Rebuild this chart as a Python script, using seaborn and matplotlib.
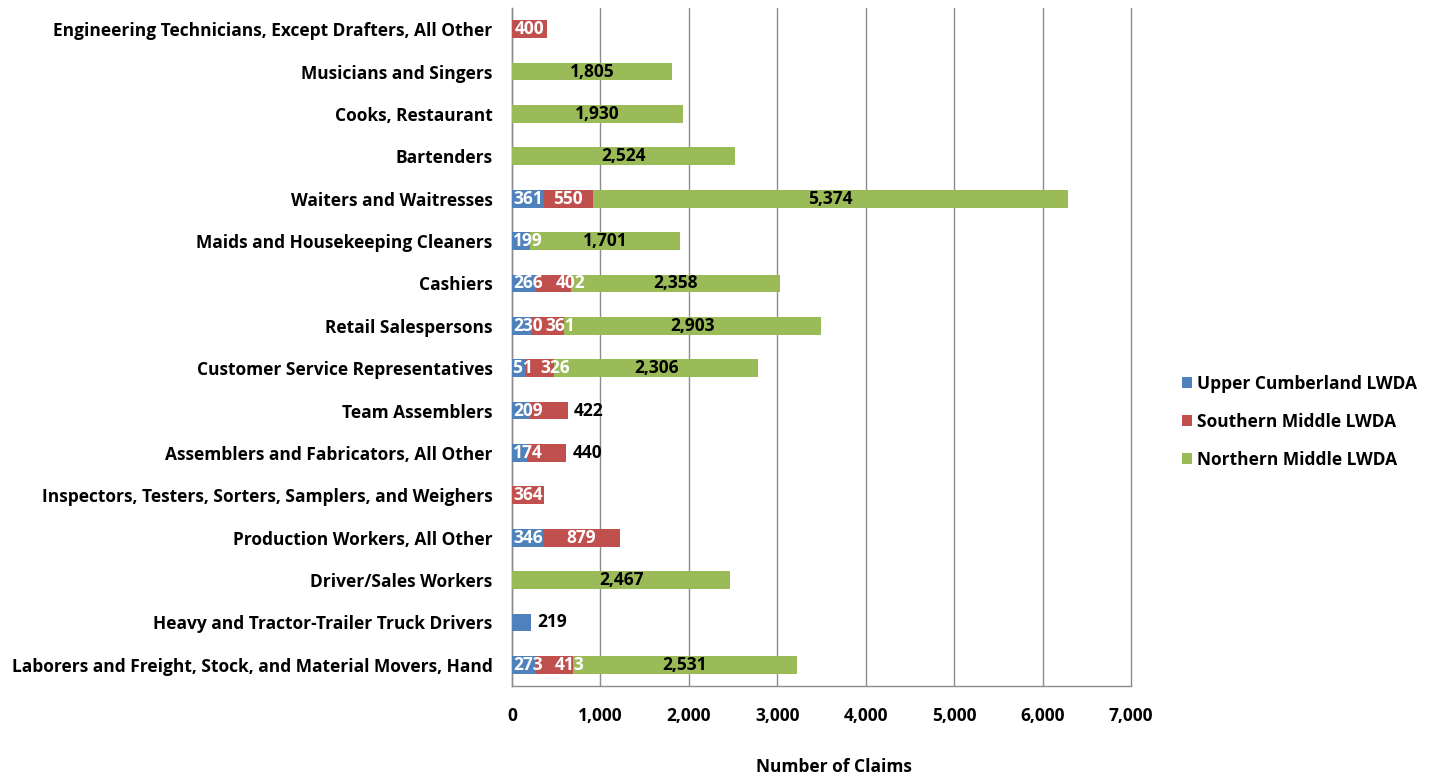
import matplotlib
matplotlib.use("Agg")
import matplotlib.pyplot as plt
import matplotlib.transforms as mtransforms
import seaborn as sns
import pandas as pd
import numpy as np
from matplotlib.patches import Patch

# occupations, top to bottom
occupations = [
    "Engineering Technicians, Except Drafters, All Other",
    "Musicians and Singers",
    "Cooks, Restaurant",
    "Bartenders",
    "Waiters and Waitresses",
    "Maids and Housekeeping Cleaners",
    "Cashiers",
    "Retail Salespersons",
    "Customer Service Representatives",
    "Team Assemblers",
    "Assemblers and Fabricators, All Other",
    "Inspectors, Testers, Sorters, Samplers, and Weighers",
    "Production Workers, All Other",
    "Driver/Sales Workers",
    "Heavy and Tractor-Trailer Truck Drivers",
    "Laborers and Freight, Stock, and Material Movers, Hand",
]

upper_cumberland = [0, 0, 0, 0, 361, 199, 266, 230, 151, 209, 174, 0, 346, 0, 219, 273]
southern_middle = [400, 0, 0, 0, 550, 0, 402, 361, 326, 422, 440, 364, 879, 0, 0, 413]
northern_middle = [0, 1805, 1930, 2524, 5374, 1701, 2358, 2903, 2306, 0, 0, 0, 0, 2467, 0, 2531]

series_names = ["Upper Cumberland LWDA", "Southern Middle LWDA", "Northern Middle LWDA"]
series_colors = ["#4F81BD", "#C0504D", "#9BBB59"]

# labels that sit just past the end of the bar
outside_labels = {("Team Assemblers", 1), ("Assemblers and Fabricators, All Other", 1),
                  ("Heavy and Tractor-Trailer Truck Drivers", 0)}
# labels nudged right (pixels) in the original
label_nudge = {("Cashiers", 1): 17, ("Retail Salespersons", 1): 12,
               ("Customer Service Representatives", 1): 15,
               ("Laborers and Freight, Stock, and Material Movers, Hand", 1): 15}
# left as is, even though it runs past the axis
no_clamp = {("Customer Service Representatives", 0)}

df = pd.DataFrame({
    "occupation": occupations,
    "upper": upper_cumberland,
    "southern": southern_middle,
    "northern": northern_middle,
})
df["cum1"] = df["upper"]
df["cum2"] = df["upper"] + df["southern"]
df["cum3"] = df["cum2"] + df["northern"]

sns.set_style("white")
plt.rcParams["font.family"] = ["Open Sans", "DejaVu Sans"]
plt.rcParams["font.weight"] = "bold"
plt.rcParams["text.color"] = "black"
plt.rcParams["axes.labelcolor"] = "black"
plt.rcParams["xtick.labelcolor"] = "black"
plt.rcParams["ytick.labelcolor"] = "black"

fs = 12.5

fig = plt.figure(figsize=(14.35, 7.74), dpi=100)
ax = fig.add_axes([0.3568, 0.1137, 0.4314, 0.876])

bar_w = 0.42
# layered cumulative bars, longest first
for col, color in zip(["cum3", "cum2", "cum1"], series_colors[::-1]):
    sns.barplot(data=df, y="occupation", x=col, color=color, orient="h",
                width=bar_w, errorbar=None, saturation=1, ax=ax, zorder=3)

for p in ax.patches:
    p.set_edgecolor("none")

ax.set_xlim(0, 7000)
ax.set_ylim(len(occupations) - 0.5, -0.5)

# data labels
inside_texts = []
for i, row in df.iterrows():
    starts = [0, row["cum1"], row["cum2"]]
    vals = [row["upper"], row["southern"], row["northern"]]
    for k in range(3):
        v = vals[k]
        if v == 0:
            continue
        key = (row["occupation"], k)
        if key in outside_labels:
            tr = mtransforms.offset_copy(ax.transData, fig=fig, x=6, y=0, units="dots")
            ax.text(starts[k] + v, i, f"{v:,}", ha="left", va="center", transform=tr,
                    color="black", fontsize=fs, fontweight="bold", zorder=5)
        else:
            color = "black" if k == 2 else "white"
            dx = label_nudge.get(key, 0)
            tr = mtransforms.offset_copy(ax.transData, fig=fig, x=dx, y=0, units="dots")
            t = ax.text(starts[k] + v / 2, i, f"{v:,}", ha="center", va="center", transform=tr,
                        color=color, fontsize=fs, fontweight="bold", zorder=5)
            if key not in no_clamp:
                inside_texts.append((t, dx))

# keep labels inside the plot area on the left
fig.canvas.draw()
renderer = fig.canvas.get_renderer()
ax_left = ax.get_window_extent(renderer).x0
for t, dx in inside_texts:
    bb = t.get_window_extent(renderer)
    if bb.x0 < ax_left + 1:
        shift = ax_left + 1 - bb.x0
        t.set_transform(mtransforms.offset_copy(ax.transData, fig=fig, x=dx + shift, y=0, units="dots"))

ax.set_xticks(range(0, 7001, 1000))
ax.set_xticklabels([f"{t:,}" for t in range(0, 7001, 1000)])
ax.xaxis.grid(True, color="#8c8c8c", linewidth=1, zorder=0)
ax.yaxis.grid(False)
ax.set_axisbelow(True)
for gl in ax.get_xgridlines():
    gl.set_clip_on(False)

for s in ["top", "right"]:
    ax.spines[s].set_visible(False)
for s in ["left", "bottom"]:
    ax.spines[s].set_color("#8c8c8c")
    ax.spines[s].set_linewidth(1)

ax.set_yticks(np.arange(-0.5, len(occupations), 1), minor=True)
ax.tick_params(axis="y", which="major", length=0, pad=14, labelsize=fs)
ax.tick_params(axis="y", which="minor", length=5, color="#8c8c8c", direction="out")
ax.tick_params(axis="x", which="major", length=5, color="#8c8c8c", direction="out",
               pad=10, labelsize=fs)
for lab in ax.get_yticklabels() + ax.get_xticklabels():
    lab.set_fontweight("bold")

ax.set_ylabel("")
ax.set_xlabel("Number of Claims", fontsize=fs, fontweight="bold", labelpad=24, x=0.52)

handles = [Patch(facecolor=c, edgecolor="none", label=n) for n, c in zip(series_names, series_colors)]
leg = fig.legend(handles=handles, loc="center left", bbox_to_anchor=(0.813, 0.455),
                 frameon=False, handlelength=0.55, handleheight=0.55, handletextpad=0.3,
                 labelspacing=1.15, prop={"size": fs, "weight": "bold"})

fig.savefig("out.png", dpi=100)
